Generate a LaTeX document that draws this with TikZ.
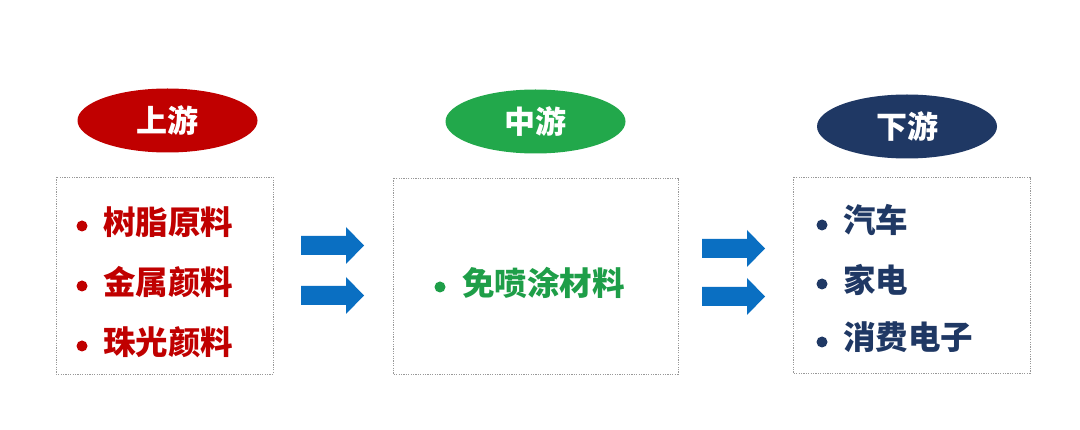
\documentclass[tikz,border=0pt]{standalone}
\usepackage{fontspec}
\newfontfamily\cjk{Noto Sans CJK SC}
\usetikzlibrary{shapes.geometric}
\definecolor{upred}{HTML}{C00000}
\definecolor{midgreen}{HTML}{22A84B}
\definecolor{itemgreen}{HTML}{1E9E48}
\definecolor{downblue}{HTML}{1F3864}
\definecolor{arrowblue}{HTML}{0A6FC2}

\begin{document}
\begin{tikzpicture}[x=1pt,y=-1pt,
  stage/.style={ellipse,minimum width=180pt,minimum height=64pt,inner sep=0pt,
    text=white,font=\cjk\bfseries\fontsize{31}{36}\selectfont},
  item/.style={anchor=west,inner sep=0pt,font=\cjk\bfseries\fontsize{32.5}{38}\selectfont},
  listbox/.style={draw=gray!80,line width=0.7pt,dash pattern=on 1.2pt off 1.2pt},
  blockarrow/.style={fill=arrowblue}]
  \fill[white] (0,0) rectangle (1080,430);
  \useasboundingbox (0,0) rectangle (1080,430);

  % stage titles
  \node[stage,fill=upred] (up) at (167.5,120.5) {上游};
  \node[stage,fill=midgreen] (mid) at (535.5,121.5) {中游};
  \node[stage,fill=downblue] (down) at (907,126.5) {下游};

  % boxes
  \draw[listbox] (56,177) rectangle (273,374);
  \draw[listbox] (393,178) rectangle (678,374);
  \draw[listbox] (793,177) rectangle (1030,373);

  % upstream
  \fill[upred] (82,226) circle (5.5pt);
  \node[item,text=upred] (resin) at (103,222) {树脂原料};
  \fill[upred] (82,286) circle (5.5pt);
  \node[item,text=upred] (metal) at (103,282) {金属颜料};
  \fill[upred] (82,346) circle (5.5pt);
  \node[item,text=upred] (pearl) at (103,342) {珠光颜料};

  % midstream
  \fill[itemgreen] (440,287) circle (5.5pt);
  \node[item,text=itemgreen] (spray) at (462,283) {免喷涂材料};

  % downstream
  \fill[downblue] (822,225) circle (5.5pt);
  \node[item,text=downblue] (car) at (843,220) {汽车};
  \fill[downblue] (822,284) circle (5.5pt);
  \node[item,text=downblue] (home) at (843,280) {家电};
  \fill[downblue] (822,342) circle (5.5pt);
  \node[item,text=downblue] (elec) at (843,337) {消费电子};

  % arrows
  \foreach \x/\y in {301/245.5, 301/295.5, 702/248.5, 702/296.5}
    \fill[blockarrow] (\x,\y-9.5) -- (\x+45,\y-9.5) -- (\x+45,\y-18.5) -- (\x+63,\y)
      -- (\x+45,\y+18.5) -- (\x+45,\y+9.5) -- (\x,\y+9.5) -- cycle;
\end{tikzpicture}
\end{document}
